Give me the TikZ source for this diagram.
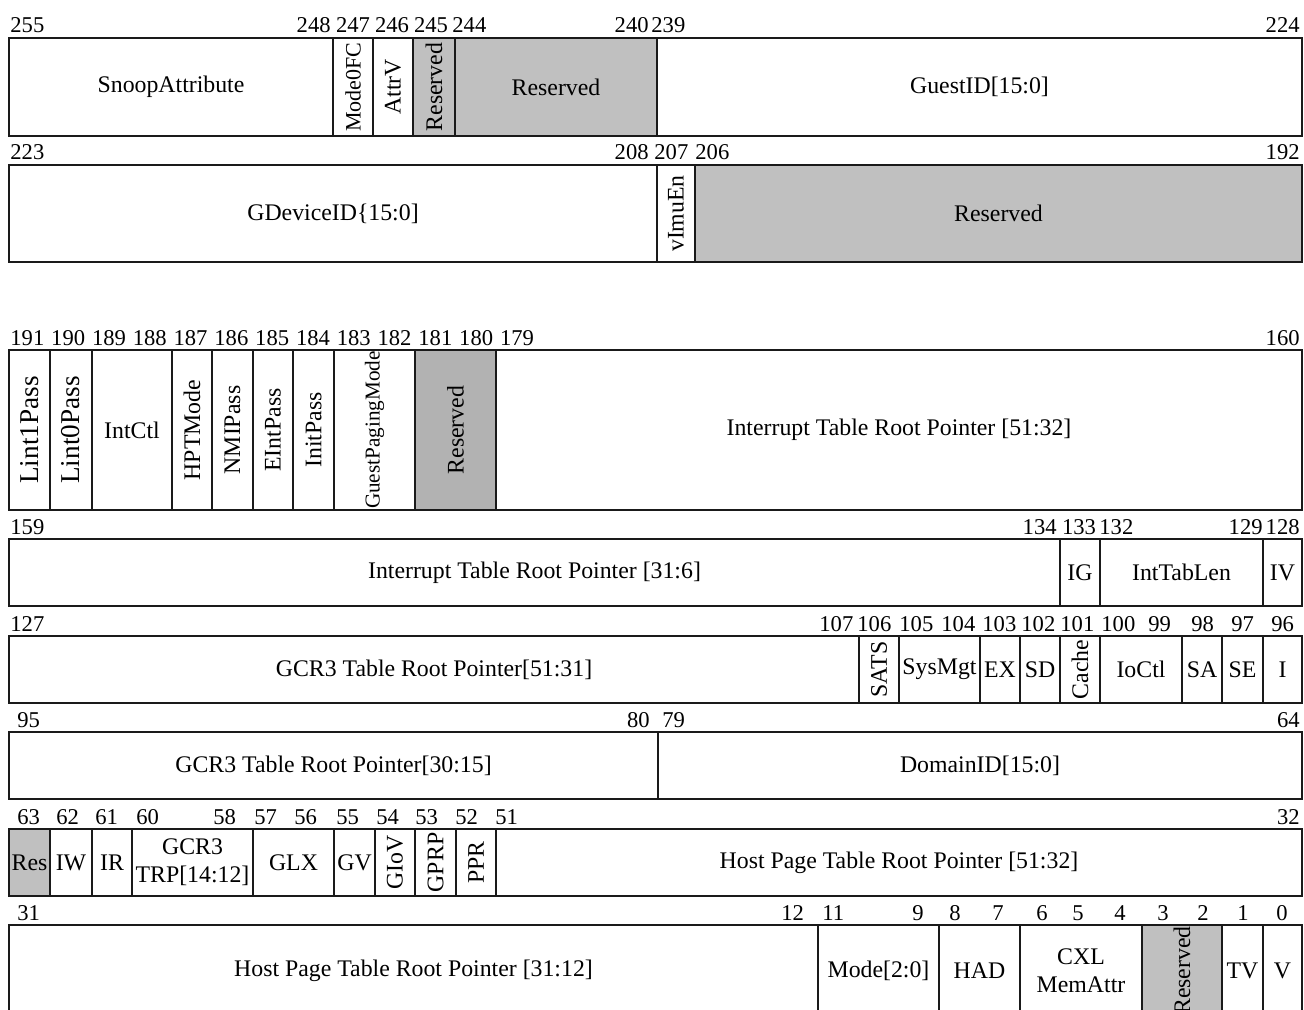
\documentclass[tikz,border=0pt]{standalone}
\usepackage{fontspec}
\setmainfont{Liberation Serif}
\usepackage{tikz}
\usetikzlibrary{positioning}
\definecolor{resgray}{HTML}{C0C0C0}
\definecolor{resdark}{HTML}{B2B2B2}
\definecolor{ink}{HTML}{1A1A1A}
\newcommand{\regfont}{\fontsize{11.9}{14}\selectfont}
\newcommand{\smallregfont}{\fontsize{10.6}{12}\selectfont}
\newcommand{\bigregfont}{\fontsize{13.6}{15}\selectfont}
\newcommand{\bitfont}{\fontsize{11.3}{13}\selectfont}
\tikzset{
  field/.style={draw=ink, line width=0.75pt, fill=white},
  resv/.style={field, fill=resgray},
  resvdark/.style={field, fill=resdark},
  fldtext/.style={align=center, inner sep=0pt, font=\regfont},
  vtext/.style={fldtext, rotate=90},
  bitnum/.style={inner sep=0pt, font=\bitfont}
}
% box from x1 to x2, y1 to y2, text in its middle
\newcommand{\regfield}[8]{%
  \draw[#1] (#4,#6) rectangle (#5,#7);
  \node[#2] (#3) at ({(#4+#5)/2},{(#6+#7)/2}) {#8};}

\begin{document}
\begin{tikzpicture}[x=0.5pt, y=-0.5pt]
\useasboundingbox (0,0) rectangle (1304,1010);
\clip (0,0) rectangle (1304,1010);

% bits 255..224
\regfield{field}{fldtext}{snoop}{9}{333}{38}{136}{SnoopAttribute}
\regfield{field}{vtext, font=\fontsize{11}{12}\selectfont}{modefc}{333}{373}{38}{136}{Mode0FC}
\regfield{field}{vtext}{attrv}{373}{413}{38}{136}{AttrV}
\regfield{resv}{vtext}{rsva}{413}{455}{38}{136}{Reserved}
\regfield{resv}{fldtext}{rsvb}{455}{657}{38}{136}{Reserved}
\regfield{field}{fldtext}{guestid}{657}{1302}{38}{136}{GuestID[15:0]}
\node[bitnum, anchor=base west] (b255) at (10,33) {255};
\node[bitnum, anchor=base east] (b248) at (331,33) {248};
\node[bitnum, anchor=base] (b247) at (353,33) {247};
\node[bitnum, anchor=base] (b246) at (392,33) {246};
\node[bitnum, anchor=base] (b245) at (431,33) {245};
\node[bitnum, anchor=base west] (b244) at (452,33) {244};
\node[bitnum, anchor=base east] (b240) at (649,33) {240};
\node[bitnum, anchor=base west] (b239) at (651,33) {239};
\node[bitnum, anchor=base east] (b224) at (1300,33) {224};

% bits 223..192
\regfield{field}{fldtext}{gdevid}{9}{657}{165}{262}{GDeviceID\{15:0]}
\regfield{field}{vtext}{vimuen}{657}{695}{165}{262}{vImuEn}
\regfield{resv}{fldtext}{rsvc}{695}{1302}{165}{262}{Reserved}
\node[bitnum, anchor=base west] (b223) at (10,160) {223};
\node[bitnum, anchor=base east] (b208) at (649,160) {208};
\node[bitnum, anchor=base west] (b207) at (654,160) {207};
\node[bitnum, anchor=base west] (b206) at (695,160) {206};
\node[bitnum, anchor=base east] (b192) at (1300,160) {192};

% bits 191..160
\regfield{field}{vtext, font=\bigregfont}{lintone}{9}{50}{350}{510}{Lint1Pass}
\regfield{field}{vtext, font=\bigregfont}{lintzero}{50}{92}{350}{510}{Lint0Pass}
\regfield{field}{fldtext}{intctl}{92}{172}{350}{510}{IntCtl}
\regfield{field}{vtext}{hptmode}{172}{212}{350}{510}{HPTMode}
\regfield{field}{vtext}{nmipass}{212}{253}{350}{510}{NMIPass}
\regfield{field}{vtext}{eintpass}{253}{293}{350}{510}{EIntPass}
\regfield{field}{vtext}{initpass}{293}{334}{350}{510}{InitPass}
\regfield{field}{vtext, font=\smallregfont}{gpgmode}{334}{415}{350}{510}{GuestPagingMode}
\regfield{resvdark}{vtext}{rsvd}{415}{496}{350}{510}{Reserved}
\regfield{field}{fldtext}{itrphi}{496}{1302}{350}{510}{Interrupt Table Root Pointer [51:32]}
\foreach \b [count=\i from 0] in {191,190,...,179}
  \node[bitnum, anchor=base west] (b\b) at ({10+40.8*\i},345) {\b};
\node[bitnum, anchor=base east] (b160) at (1300,345) {160};

% bits 159..128
\regfield{field}{fldtext}{itrplo}{9}{1060}{539}{606}{Interrupt Table Root Pointer [31:6]}
\regfield{field}{fldtext}{ig}{1060}{1100}{539}{606}{IG}
\regfield{field}{fldtext}{inttablen}{1100}{1263}{539}{606}{IntTabLen}
\regfield{field}{fldtext}{iv}{1263}{1302}{539}{606}{IV}
\node[bitnum, anchor=base west] (b159) at (10,534) {159};
\node[bitnum, anchor=base east] (b134) at (1057,534) {134};
\node[bitnum, anchor=base] (b133) at (1079,534) {133};
\node[bitnum, anchor=base west] (b132) at (1099,534) {132};
\node[bitnum, anchor=base east] (b129) at (1263,534) {129};
\node[bitnum, anchor=base east] (b128) at (1300,534) {128};

% bits 127..96
\regfield{field}{fldtext}{gcrhi}{9}{859}{636}{703}{GCR3 Table Root Pointer[51:31]}
\regfield{field}{vtext}{sats}{859}{899}{636}{703}{SATS}
\regfield{field}{fldtext}{sysmgt}{899}{980}{636}{703}{SysMgt}
\regfield{field}{fldtext}{ex}{980}{1020}{636}{703}{EX}
\regfield{field}{fldtext}{sd}{1020}{1060}{636}{703}{SD}
\regfield{field}{vtext}{cache}{1060}{1100}{636}{703}{Cache}
\regfield{field}{fldtext}{ioctl}{1100}{1182}{636}{703}{IoCtl}
\regfield{field}{fldtext}{sa}{1182}{1222}{636}{703}{SA}
\regfield{field}{fldtext}{se}{1222}{1263}{636}{703}{SE}
\regfield{field}{fldtext}{ibit}{1263}{1302}{636}{703}{I}
\node[bitnum, anchor=base west] (b127) at (10,631) {127};
\foreach \b/\x in {107/819,106/857,105/899,104/941,103/982,102/1021,101/1060,100/1101,99/1148,98/1191,97/1231,96/1271}
  \node[bitnum, anchor=base west] (b\b) at (\x,631) {\b};

% bits 95..64
\regfield{field}{fldtext}{gcrmid}{9}{658}{732}{799}{GCR3 Table Root Pointer[30:15]}
\regfield{field}{fldtext}{domid}{658}{1302}{732}{799}{DomainID[15:0]}
\node[bitnum, anchor=base west] (b95) at (17,727) {95};
\node[bitnum, anchor=base east] (b80) at (650,727) {80};
\node[bitnum, anchor=base west] (b79) at (662,727) {79};
\node[bitnum, anchor=base east] (b64) at (1300,727) {64};

% bits 63..32
\regfield{resv}{fldtext}{res}{9}{50}{829}{896}{Res}
\regfield{field}{fldtext}{iw}{50}{92}{829}{896}{IW}
\regfield{field}{fldtext}{ir}{92}{132}{829}{896}{IR}
\regfield{field}{fldtext}{gcrlo}{132}{253}{829}{896}{GCR3\\TRP[14:12]}
\regfield{field}{fldtext}{glx}{253}{334}{829}{896}{GLX}
\regfield{field}{fldtext}{gv}{334}{375}{829}{896}{GV}
\regfield{field}{vtext}{giov}{375}{415}{829}{896}{GIoV}
\regfield{field}{vtext}{gprp}{415}{456}{829}{896}{GPRP}
\regfield{field}{vtext}{ppr}{456}{496}{829}{896}{PPR}
\regfield{field}{fldtext}{hptrphi}{496}{1302}{829}{896}{Host Page Table Root Pointer [51:32]}
\foreach \b/\x in {63/17,62/56,61/95,60/136,58/213,57/254,56/294,55/336,54/376,53/415,52/455,51/495}
  \node[bitnum, anchor=base west] (b\b) at (\x,824) {\b};
\node[bitnum, anchor=base east] (b32) at (1300,824) {32};

% bits 31..0
\regfield{field}{fldtext}{hptrplo}{9}{818}{925}{1016}{Host Page Table Root Pointer [31:12]}
\regfield{field}{fldtext}{mode}{818}{939}{925}{1016}{Mode[2:0]}
\regfield{field}{fldtext}{had}{939}{1020}{925}{1016}{HAD}
\regfield{field}{fldtext}{cxl}{1020}{1142}{925}{1016}{CXL\\MemAttr}
\regfield{resv}{vtext}{rsvf}{1142}{1222}{925}{1016}{Reserved}
\regfield{field}{fldtext}{tv}{1222}{1263}{925}{1016}{TV}
\regfield{field}{fldtext}{vbit}{1263}{1302}{925}{1016}{V}
\node[bitnum, anchor=base west] (b31) at (17,920) {31};
\foreach \b/\x in {12/781,11/822,9/912,8/949,7/992,6/1036,5/1072,4/1114,3/1157,2/1197,1/1237,0/1276}
  \node[bitnum, anchor=base west] (b\b) at (\x,920) {\b};
\end{tikzpicture}
\end{document}
